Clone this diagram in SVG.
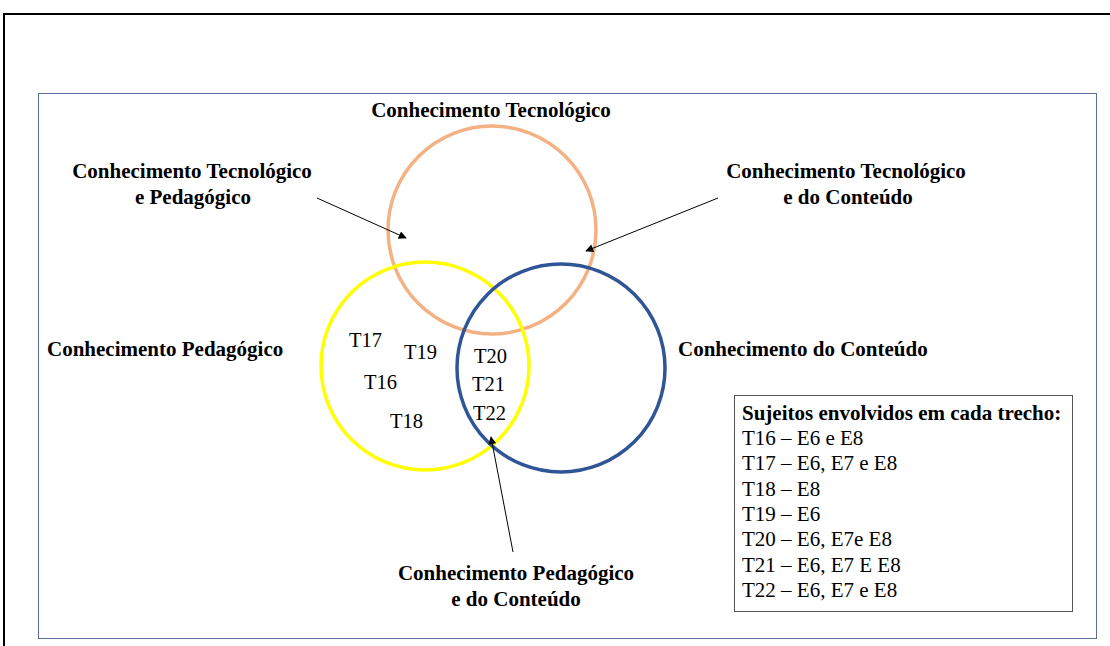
<svg xmlns="http://www.w3.org/2000/svg" width="1110" height="646" viewBox="0 0 1110 646">
<style>
.b{font-family:"Liberation Serif","Times New Roman",serif;font-weight:bold;font-size:21px;fill:#000}
.r{font-family:"Liberation Serif","Times New Roman",serif;font-size:21px;fill:#000}
.t{font-family:"Liberation Serif","Times New Roman",serif;font-size:20.5px;fill:#000}
.c{fill:none;stroke-width:3.5}
.arr{stroke:#000;stroke-width:1;fill:none;marker-end:url(#ah)}
</style>
<defs>
<marker id="ah" viewBox="0 0 10 10" refX="9" refY="5" markerWidth="10" markerHeight="8" markerUnits="userSpaceOnUse" orient="auto">
<path d="M0,0 L10,5 L0,10 Z" fill="#000"/>
</marker>
</defs>
<rect width="1110" height="646" fill="#fff"/>
<path d="M4,646 L4,14 L1110,14" fill="none" stroke="#000" stroke-width="2"/>
<rect x="38.5" y="93.5" width="1058" height="545" fill="none" stroke="#5a6fa0" stroke-width="1"/>

<g id="circle-tecnologico"><circle class="c" cx="492" cy="230" r="104" stroke="#F4B183"/></g>
<g id="circle-pedagogico"><circle class="c" cx="425" cy="366" r="104" stroke="#FFFF00"/></g>
<g id="circle-conteudo"><circle class="c" cx="561" cy="368" r="104" stroke="#2F5597"/></g>

<g id="label-ct"><text class="b" x="491" y="117" text-anchor="middle">Conhecimento Tecnológico</text></g>
<g id="label-ctp"><text class="b" x="192" y="178" text-anchor="middle">Conhecimento Tecnológico</text><text class="b" x="193" y="204" text-anchor="middle">e Pedagógico</text></g>
<g id="label-ctc"><text class="b" x="846" y="178" text-anchor="middle">Conhecimento Tecnológico</text><text class="b" x="848" y="204" text-anchor="middle">e do Conteúdo</text></g>
<g id="label-cp"><text class="b" x="47" y="356">Conhecimento Pedagógico</text></g>
<g id="label-cc"><text class="b" x="678" y="356">Conhecimento do Conteúdo</text></g>
<g id="label-cpc"><text class="b" x="516" y="580" text-anchor="middle">Conhecimento Pedagógico</text><text class="b" x="516" y="606" text-anchor="middle">e do Conteúdo</text></g>

<g id="trechos">
<text class="t" x="349" y="347">T17</text>
<text class="t" x="404" y="359">T19</text>
<text class="t" x="364" y="389">T16</text>
<text class="t" x="390" y="428">T18</text>
<text class="t" x="474" y="363">T20</text>
<text class="t" x="472" y="391">T21</text>
<text class="t" x="473" y="420">T22</text>
</g>

<g id="legend">
<rect x="734.5" y="395.5" width="338" height="216" fill="#fff" stroke="#555" stroke-width="1"/>
<text class="b" x="742" y="420">Sujeitos envolvidos em cada trecho:</text>
<text class="r" x="742" y="445">T16 – E6 e E8</text>
<text class="r" x="742" y="470.3">T17 – E6, E7 e E8</text>
<text class="r" x="742" y="495.6">T18 – E8</text>
<text class="r" x="742" y="520.9">T19 – E6</text>
<text class="r" x="742" y="546.2">T20 – E6, E7e E8</text>
<text class="r" x="742" y="571.5">T21 – E6, E7 E E8</text>
<text class="r" x="742" y="596.8">T22 – E6, E7 e E8</text>
</g>

<g id="connectors">
<line class="arr" x1="317" y1="198" x2="406" y2="238"/>
<line class="arr" x1="718" y1="198" x2="586" y2="251"/>
<line class="arr" x1="513" y1="552" x2="491" y2="437"/>
</g>
</svg>
